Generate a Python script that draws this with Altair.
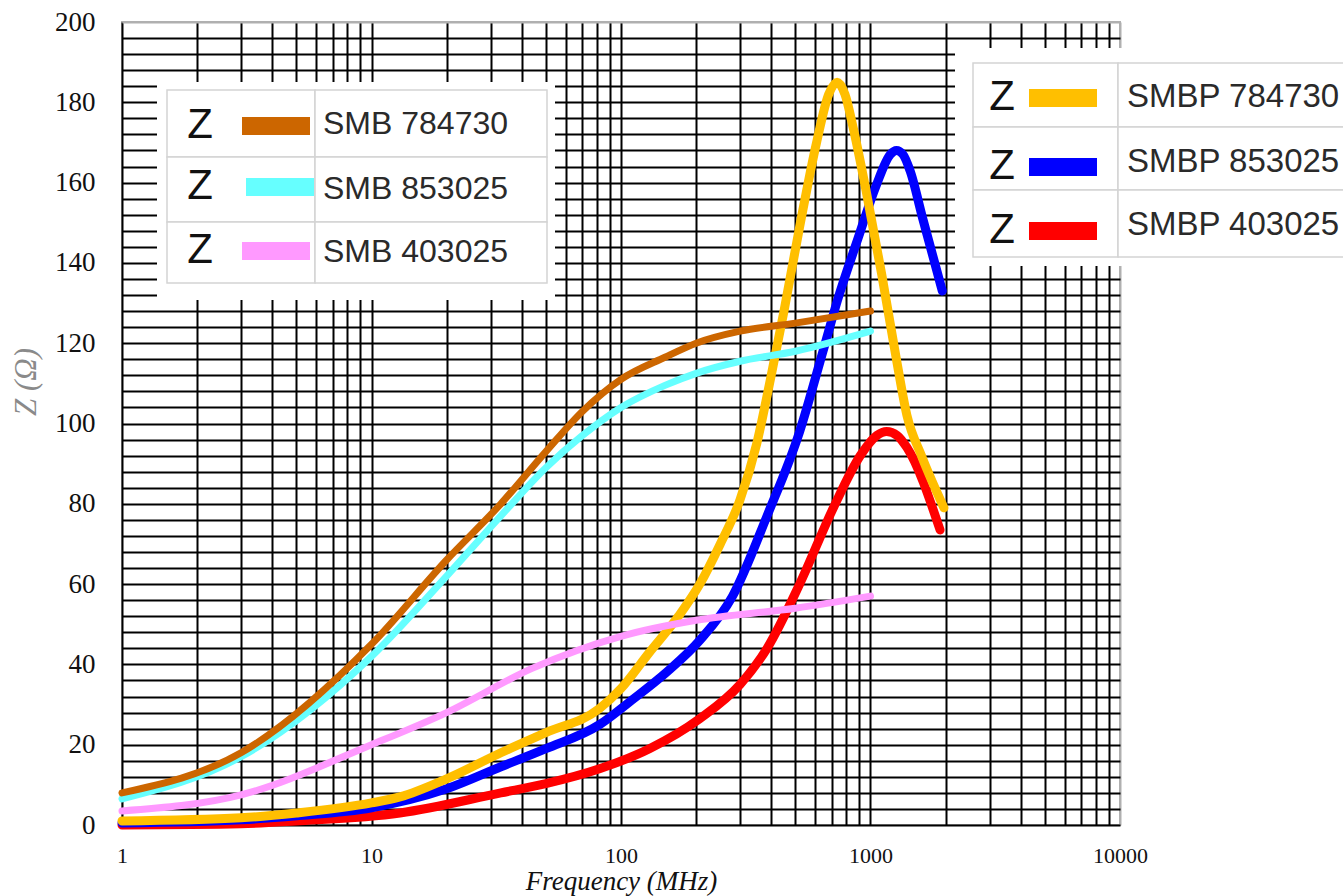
import altair as alt
import pandas as pd

# ---- impedance curves: frequency (MHz) vs Z (ohm) ----
names = ["SMBP 403025", "SMBP 853025", "SMBP 784730",
         "SMB 403025", "SMB 853025", "SMB 784730"]
colors = ["#ff0000", "#0000ff", "#ffbf00", "#ff99ff", "#66ffff", "#cc6600"]
widths = [9, 9, 9, 7, 7, 7]

f_smbp_403025 = [1, 3, 5, 13, 33, 50, 82, 130, 207, 300, 385, 520, 710, 910, 1060, 1160, 1280, 1400, 1900]
z_smbp_403025 = [0, 0.3, 1, 3, 8, 10.3, 14, 19, 26.5, 35, 44, 60, 79, 92, 97, 98, 97, 94, 73.5]

f_smbp_853025 = [1, 3, 5, 10, 20, 33, 50, 82, 110, 152, 207, 280, 385, 520, 645, 740, 890, 1050, 1200, 1270, 1350, 1440, 1620, 1940]
z_smbp_853025 = [0.5, 1.3, 2.3, 4.3, 9, 14.5, 19, 25, 31, 38, 46, 57, 77, 98, 118, 131, 146, 159, 167, 168, 167, 163, 151, 133]

f_smbp_784730 = [1, 3, 5, 10, 13, 20, 33, 50, 82, 100, 130, 170, 207, 250, 300, 350, 400, 450, 520, 608, 680, 735,
                 790, 850, 960, 1110, 1270, 1400, 1600, 1970]
z_smbp_784730 = [1, 1.8, 3, 5.5, 7, 11.5, 18, 23, 29, 34, 43, 52, 60, 70, 81, 95, 112, 128, 149, 170, 182, 185,
                 182, 174, 158, 137, 116, 102, 92, 79]

f_smb_403025 = [1, 3, 10, 20, 44, 100, 200, 500, 1000]
z_smb_403025 = [3.5, 7.5, 20, 28, 39, 47, 51, 54, 57]

f_smb_853025 = [1, 3, 10, 20, 33, 50, 70, 100, 150, 200, 300, 500, 1000]
z_smb_853025 = [6.5, 17, 42, 62, 77, 89, 97, 104, 109.5, 112.5, 115.5, 118, 123]

f_smb_784730 = [1, 3, 10, 20, 33, 50, 70, 100, 150, 200, 300, 500, 1000]
z_smb_784730 = [8, 18, 45, 66, 80, 93, 103, 111, 116.5, 120, 123, 125, 128]

freqs = [f_smbp_403025, f_smbp_853025, f_smbp_784730, f_smb_403025, f_smb_853025, f_smb_784730]
zvals = [z_smbp_403025, z_smbp_853025, z_smbp_784730, z_smb_403025, z_smb_853025, z_smb_784730]

rows = []
for name, fs, zs in zip(names, freqs, zvals):
    for f, z in zip(fs, zs):
        rows.append({"series": name, "freq": f, "z": z})
df = pd.DataFrame(rows)

# ---- axis tick / grid values ----
x_grid = [m * 10 ** e for e in range(4) for m in range(1, 10)] + [10000]
y_grid = list(range(0, 201, 4))

W, H = 998, 803
X0, Y0 = 122, 22  # plot origin on the page

x_enc = alt.X(
    "freq:Q",
    scale=alt.Scale(type="log", domain=[1, 10000], nice=False),
    axis=alt.Axis(
        values=x_grid,
        labelExpr="indexof([1, 10, 100, 1000, 10000], datum.value) >= 0 ? format(datum.value, 'd') : ''",
        labelOverlap=False, labelFlush=False, ticks=False, domain=False,
        labelFont="Liberation Serif", labelFontSize=22, labelColor="#111", labelPadding=20,
        grid=True, gridWidth=2,
        gridColor={"condition": {"test": "datum.value >= 10000", "value": "#b0b0b0"}, "value": "#000"},
        title="Frequency (MHz)", titleFont="Liberation Serif", titleFontStyle="italic",
        titleFontWeight="normal", titleFontSize=27, titleColor="#111", titlePadding=2,
    ),
)
y_enc = alt.Y(
    "z:Q",
    scale=alt.Scale(domain=[0, 200], nice=False, zero=True),
    axis=alt.Axis(
        values=y_grid,
        labelExpr="datum.value % 20 == 0 ? datum.label : ''",
        labelOverlap=False, labelFlush=False, ticks=False, domain=False,
        labelFont="Liberation Serif", labelFontSize=27, labelColor="#111", labelPadding=27,
        grid=True, gridWidth=2,
        gridColor={"condition": {"test": "datum.value >= 200", "value": "#b0b0b0"}, "value": "#000"},
        title=None,
    ),
)
color_enc = alt.Color("series:N", scale=alt.Scale(domain=names, range=colors), legend=None)

layers = []
for name, w in zip(names, widths):
    layers.append(
        alt.Chart(df)
        .transform_filter(alt.datum.series == name)
        .mark_line(strokeWidth=w, strokeCap="round", strokeJoin="round", interpolate="monotone")
        .encode(x=x_enc, y=y_enc, color=color_enc)
    )

one = pd.DataFrame({"k": [0]})


def px(x):
    return alt.value(x - X0)


def py(y):
    return alt.value(y - Y0)


def rect(x1, x2, y1, y2, **kw):
    return alt.Chart(one).mark_rect(**kw).encode(x=px(x1), x2=px(x2), y=py(y1), y2=py(y2))


def text(t, x, y, **kw):
    return alt.Chart(one).mark_text(text=t, **kw).encode(x=px(x), y=py(y))


# y-axis title
layers.append(text("Z (Ω)", 27, 382, angle=270, font="Liberation Serif", fontStyle="italic",
                   fontSize=31, color="#8a8a8a", baseline="middle", align="center"))

# ---- table-style legends ----
def legend_table(labels, cols, bg, box, rows_y, divider, z_x, sw, text_x, sw_y, txt_y, sw_shift=None,
                 font_size=32, z_size=42):
    out = [rect(*bg, color="white")]
    x1, x2 = box
    for i in range(len(labels)):
        out.append(rect(x1, divider, rows_y[i], rows_y[i + 1], fill="white", stroke="#d4d4d4", strokeWidth=1.5))
        out.append(rect(divider, x2, rows_y[i], rows_y[i + 1], fill="white", stroke="#d4d4d4", strokeWidth=1.5))
    for i, (lab, col) in enumerate(zip(labels, cols)):
        shift = sw_shift[i] if sw_shift else 0
        out.append(text("Z", z_x, sw_y[i] - 1, font="Liberation Sans", fontSize=z_size, color="#111",
                        baseline="middle", align="center"))
        out.append(rect(sw[0] + shift, sw[1] + shift, sw_y[i] - 9, sw_y[i] + 9, color=col))
        out.append(text(lab, text_x, txt_y[i], font="Liberation Sans", fontSize=font_size, color="#2a2a2a",
                        baseline="middle", align="left"))
    return out


left_labels = ["SMB 784730", "SMB 853025", "SMB 403025"]
left_colors = ["#cc6600", "#66ffff", "#ff99ff"]
right_labels = ["SMBP 784730", "SMBP 853025", "SMBP 403025"]
right_colors = ["#ffbf00", "#0000ff", "#ff0000"]

layers += legend_table(left_labels, left_colors, bg=(157, 555, 82, 300), box=(167, 547),
                       rows_y=[90, 157, 222, 283], divider=315, z_x=200, sw=(242, 310), text_x=323,
                       sw_y=[126, 187, 251], txt_y=[124, 189, 252], sw_shift=[0, 4, 0])
layers += legend_table(right_labels, right_colors, bg=(955, 1343, 48, 266), box=(973, 1352),
                       rows_y=[63, 127, 190, 257], divider=1118, z_x=1002, sw=(1029, 1097), text_x=1127,
                       sw_y=[98, 167, 231], txt_y=[97, 162, 225], font_size=33)

chart = (
    alt.layer(*layers)
    .properties(
        width=W, height=H,
        autosize=alt.AutoSizeParams(type="none"),
        padding={"left": X0, "top": Y0, "right": 1343 - X0 - W, "bottom": 896 - Y0 - H},
        background="white",
    )
    .configure_view(stroke="#b0b0b0", strokeWidth=2)
)

chart.save("out.html", embed_options={"renderer": "svg", "actions": False})
